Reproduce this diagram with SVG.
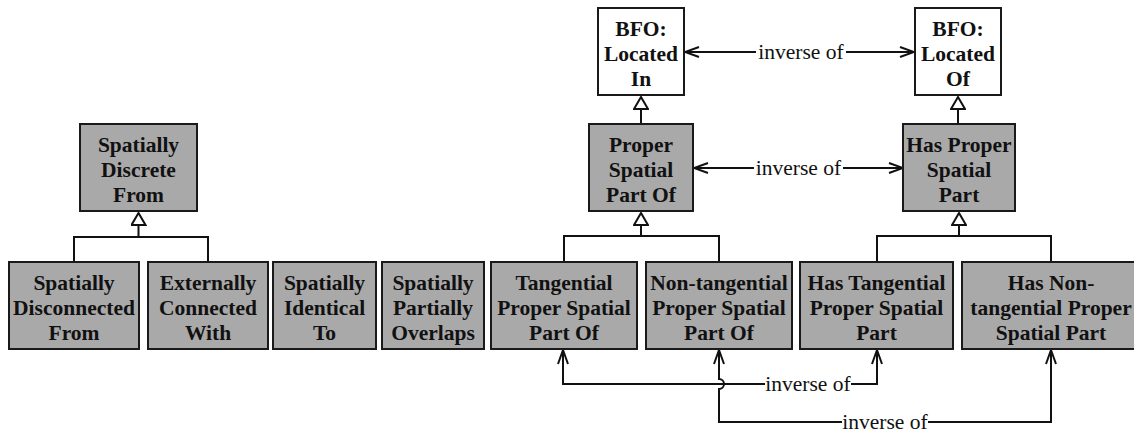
<svg xmlns="http://www.w3.org/2000/svg" width="1134" height="435" viewBox="0 0 1134 435">
<defs>
<style>
.box{fill:#a9a9a9;stroke:#1a1a1a;stroke-width:2}
.wbox{fill:#fff;stroke:#1a1a1a;stroke-width:2}
text{font-family:'Liberation Serif','Times New Roman','DejaVu Serif','Noto Serif',serif;font-size:21.5px;fill:#111;text-anchor:middle}
.t{font-weight:bold}
.ln{fill:none;stroke:#111;stroke-width:2}
.gen{fill:none;stroke:#111;stroke-width:2;marker-end:url(#tri)}
.arr{fill:none;stroke:#111;stroke-width:2;marker-end:url(#open)}
</style>
<marker id="tri" viewBox="-14 -8 16 16" refX="0" refY="0" markerWidth="16" markerHeight="16" markerUnits="userSpaceOnUse" orient="auto">
<path d="M0,0 L-12,-7 L-12,7 Z" fill="#fff" stroke="#111" stroke-width="2" stroke-linejoin="miter"/>
</marker>
<marker id="open" viewBox="-16 -8 18 16" refX="0" refY="0" markerWidth="18" markerHeight="16" markerUnits="userSpaceOnUse" orient="auto">
<path d="M-14,-5 L0,0 L-14,5" fill="none" stroke="#111" stroke-width="2"/>
</marker>
</defs>

<g id="connectors">
<path class="gen" d="M74,262 V237 H208 V262 M138.5,237 V213"/>
<path class="gen" d="M564,262 V236 H719 V262 M641,236 V213"/>
<path class="gen" d="M877,262 V236 H1051 V262 M959,236 V213"/>
<path class="gen" d="M641,124 V97"/>
<path class="gen" d="M958,124 V97"/>
<path class="arr" d="M756,52 H685"/>
<path class="arr" d="M846,52 H914"/>
<text class="lbl" x="801" y="59">inverse of</text>
<path class="arr" d="M754,168 H694"/>
<path class="arr" d="M843,168 H903"/>
<text class="lbl" x="798.5" y="175">inverse of</text>
<path class="arr" d="M765,384 H563 V350"/>
<path class="arr" d="M851,384 H877 V350"/>
<text class="lbl" x="808" y="391">inverse of</text>
<path class="arr" d="M842,422 H719 V389 A5,5 0 0 0 719,379 V350"/>
<path class="arr" d="M928,422 H1051 V350"/>
<text class="lbl" x="885" y="429">inverse of</text>
</g>

<g id="bfo-located-in"><rect class="wbox" x="598" y="8" width="86" height="87"/><text class="t" x="641" y="36">BFO:</text><text class="t" x="641" y="61">Located</text><text class="t" x="641" y="86">In</text></g>
<g id="bfo-located-of"><rect class="wbox" x="915" y="8" width="86" height="87"/><text class="t" x="958" y="36">BFO:</text><text class="t" x="958" y="61">Located</text><text class="t" x="958" y="86">Of</text></g>
<g id="spatially-discrete-from"><rect class="box" x="80" y="124" width="117" height="87"/><text class="t" x="138.5" y="152">Spatially</text><text class="t" x="138.5" y="177">Discrete</text><text class="t" x="138.5" y="202">From</text></g>
<g id="proper-spatial-part-of"><rect class="box" x="589" y="124" width="104" height="87"/><text class="t" x="641" y="152">Proper</text><text class="t" x="641" y="177">Spatial</text><text class="t" x="641" y="202">Part Of</text></g>
<g id="has-proper-spatial-part"><rect class="box" x="903" y="124" width="112" height="87"/><text class="t" x="959" y="152">Has Proper</text><text class="t" x="959" y="177">Spatial</text><text class="t" x="959" y="202">Part</text></g>
<g id="spatially-disconnected-from"><rect class="box" x="9" y="262" width="130" height="87"/><text class="t" x="74" y="290">Spatially</text><text class="t" x="74" y="315">Disconnected</text><text class="t" x="74" y="340">From</text></g>
<g id="externally-connected-with"><rect class="box" x="148" y="262" width="120" height="87"/><text class="t" x="208" y="290">Externally</text><text class="t" x="208" y="315">Connected</text><text class="t" x="208" y="340">With</text></g>
<g id="spatially-identical-to"><rect class="box" x="273" y="262" width="103" height="87"/><text class="t" x="324.5" y="290">Spatially</text><text class="t" x="324.5" y="315">Identical</text><text class="t" x="324.5" y="340">To</text></g>
<g id="spatially-partially-overlaps"><rect class="box" x="382" y="262" width="102" height="87"/><text class="t" x="433" y="290">Spatially</text><text class="t" x="433" y="315">Partially</text><text class="t" x="433" y="340">Overlaps</text></g>
<g id="tangential-proper-spatial-part-of"><rect class="box" x="491" y="262" width="146" height="87"/><text class="t" x="564" y="290">Tangential</text><text class="t" x="564" y="315">Proper Spatial</text><text class="t" x="564" y="340">Part Of</text></g>
<g id="non-tangential-proper-spatial-part-of"><rect class="box" x="646" y="262" width="146" height="87"/><text class="t" x="719" y="290">Non-tangential</text><text class="t" x="719" y="315">Proper Spatial</text><text class="t" x="719" y="340">Part Of</text></g>
<g id="has-tangential-proper-spatial-part"><rect class="box" x="800" y="262" width="153" height="87"/><text class="t" x="876.5" y="290">Has Tangential</text><text class="t" x="876.5" y="315">Proper Spatial</text><text class="t" x="876.5" y="340">Part</text></g>
<g id="has-non-tangential-proper-spatial-part"><rect class="box" x="962" y="262" width="178" height="87"/><text class="t" x="1051" y="290">Has Non-</text><text class="t" x="1051" y="315">tangential Proper</text><text class="t" x="1051" y="340">Spatial Part</text></g>
</svg>
